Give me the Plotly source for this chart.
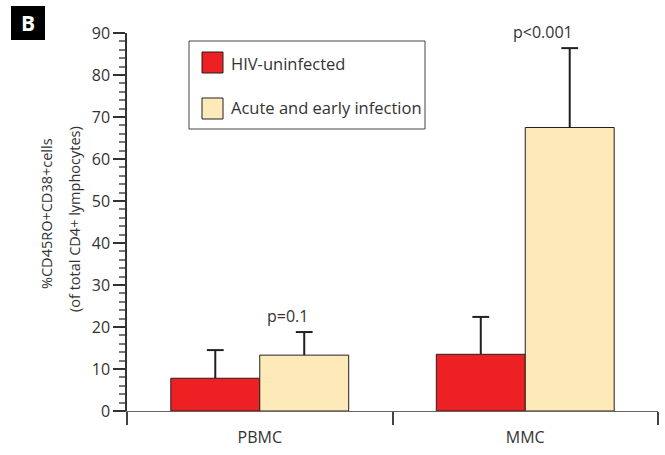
import plotly.graph_objects as go

categories = ["PBMC", "MMC"]
series_names = ["HIV-uninfected", "Acute and early infection"]
uninfected = [7.8, 13.5]
uninfected_err = [6.7, 8.9]
acute = [13.3, 67.5]
acute_err = [5.5, 18.9]
p_labels = ["p=0.1", "p<0.001"]
y_ticks = [0, 10, 20, 30, 40, 50, 60, 70, 80, 90]

W, H = 665, 455
L, R, T, B = 127, 7, 33, 44
PW, PH = W - L - R, H - T - B

def px(x):
    return (x - L) / PW

def py(y):
    return (H - B - y) / PH

RED = "#ed2024"
YEL = "#fdeab8"
DARK = "#231f20"
TXT = "#333333"
FONT = "Open Sans"
GAP = 0.33

fig = go.Figure()
series = [(series_names[0], uninfected, uninfected_err, RED),
          (series_names[1], acute, acute_err, YEL)]
for name, vals, errs, col in series:
    fig.add_trace(go.Bar(
        x=categories, y=vals, name=name,
        marker=dict(color=col, line=dict(color=DARK, width=1)),
        error_y=dict(type="data", symmetric=False, array=errs,
                     arrayminus=[0] * len(errs), color=DARK, thickness=2, width=0),
        showlegend=False,
    ))
# error-bar caps (top only), grouped like the bars
for name, vals, errs, col in series:
    fig.add_trace(go.Scatter(
        x=categories, y=[v + e for v, e in zip(vals, errs)], name=name + " cap",
        mode="markers",
        marker=dict(symbol="line-ew", size=12, line=dict(color=DARK, width=2)),
        showlegend=False, hoverinfo="skip",
    ))

# p-value annotations above the acute bars
for i, cat in enumerate(categories):
    fig.add_annotation(x=cat, y=acute[i] + acute_err[i], text=p_labels[i],
                       showarrow=False, yanchor="bottom", yshift=3, xshift=28 - 10 * i,
                       font=dict(family=FONT, size=16, color=TXT))

shapes = []
# legend box
shapes.append(dict(type="rect", xref="paper", yref="paper",
                   x0=px(189), x1=px(425), y0=py(41), y1=py(129),
                   line=dict(color="#444444", width=1), fillcolor="white"))
legend_rows = [(RED, 52, 73, 63), (YEL, 98, 119, 108)]
for (col, ya, yb, yc), nm in zip(legend_rows, series_names):
    shapes.append(dict(type="rect", xref="paper", yref="paper",
                       x0=px(202), x1=px(223), y0=py(ya), y1=py(yb),
                       line=dict(color=DARK, width=1), fillcolor=col))
    fig.add_annotation(xref="paper", yref="paper", x=px(229), y=py(yc), text=nm,
                       showarrow=False, xanchor="left", yanchor="middle",
                       font=dict(family=FONT, size=16.5, color=TXT))
# panel label box
shapes.append(dict(type="rect", xref="paper", yref="paper",
                   x0=px(11), x1=px(45), y0=py(6), y1=py(40),
                   line=dict(width=0), fillcolor="black"))
fig.add_annotation(xref="paper", yref="paper", x=px(28), y=py(23), text="<b>B</b>",
                   showarrow=False, xanchor="center", yanchor="middle",
                   font=dict(family=FONT, size=21, color="white"))

# y-axis title (two rotated lines)
fig.add_annotation(xref="paper", yref="paper", x=px(46), y=py(214),
                   text="%CD45RO+CD38+cells", textangle=-90, showarrow=False,
                   xanchor="center", yanchor="middle",
                   font=dict(family=FONT, size=14.5, color=TXT))
fig.add_annotation(xref="paper", yref="paper", x=px(74), y=py(219),
                   text="(of total CD4+ lymphocytes)", textangle=-90, showarrow=False,
                   xanchor="center", yanchor="middle",
                   font=dict(family=FONT, size=14.5, color=TXT))

fig.update_layout(
    width=W, height=H,
    margin=dict(l=L, r=R, t=T, b=B),
    paper_bgcolor="white", plot_bgcolor="white",
    barmode="group", bargap=GAP, bargroupgap=0,
    scattermode="group", scattergap=GAP,
    shapes=shapes,
    font=dict(family=FONT, color=TXT),
)
fig.update_xaxes(
    showline=True, linecolor="#666666", linewidth=1,
    ticks="outside", tickson="boundaries", ticklen=13, tickcolor="#444444", tickwidth=1.5,
    ticklabelstandoff=12,
    tickfont=dict(family=FONT, size=16, color=TXT),
    showgrid=False, zeroline=False, automargin=False,
)
fig.update_yaxes(
    range=[0, 90], tickvals=y_ticks,
    showline=True, linecolor="#333333", linewidth=1.5,
    ticks="outside", ticklen=12, tickcolor="#333333", tickwidth=1.5,
    ticklabelstandoff=0,
    minor=dict(dtick=2, ticks="outside", ticklen=6, tickcolor="#777777", tickwidth=2),
    tickfont=dict(family=FONT, size=16, color=TXT),
    showgrid=False, zeroline=False, automargin=False,
)

fig.write_html("out.html", config={"displayModeBar": False},
               post_script="document.body.style.margin='0';")
